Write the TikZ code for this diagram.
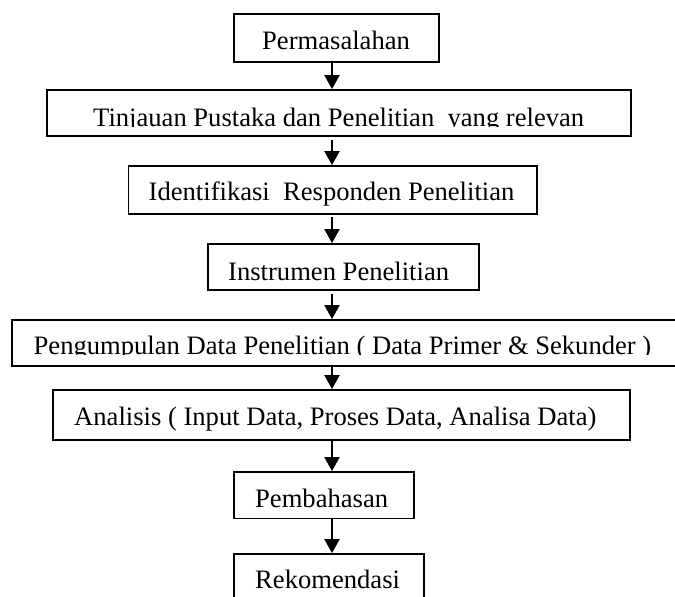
\documentclass[tikz,border=0pt]{standalone}
\usepackage{fontspec}
\setmainfont{Liberation Serif}
\usetikzlibrary{arrows.meta}
\begin{document}
\begin{tikzpicture}[x=1pt,y=-1pt,
  box/.style={draw=black,line width=1.8pt,inner sep=0pt,fill=white},
  lbl/.style={inner sep=0pt,anchor=base west,font=\fontsize{26.6}{30}\selectfont},
  arr/.style={line width=2pt,-{Triangle[width=15pt,length=14pt]}}]
\useasboundingbox (0,0) rectangle (675,597);
\clip (0,0) rectangle (675,597);
% boxes
\node[box,minimum width=205pt,minimum height=48pt] (b1) at (336.5,38) {};
\node[box,minimum width=584pt,minimum height=46pt] (b2) at (339,113) {};
\node[box,minimum width=408.5pt,minimum height=48pt] (b3) at (332.75,190) {};
\node[box,minimum width=271pt,minimum height=46pt] (b4) at (343.5,267) {};
\node[box,minimum width=690pt,minimum height=46pt] (b5) at (357,343) {};
\node[box,minimum width=577pt,minimum height=50pt] (b6) at (341.5,415) {};
\node[box,minimum width=180pt,minimum height=46.5pt] (b7) at (324,495.25) {};
\node[box,minimum width=190pt,minimum height=66pt] (b8) at (329,587) {};
% texts
\node[lbl] (t1) at (262,49) {Permasalahan};
\begin{scope}
\clip (50,92) rectangle (629,126);
\node[lbl] (t2) at (93,126) {Tinjauan Pustaka dan Penelitian\ \ yang relevan};
\end{scope}
\node[lbl] (t3) at (148.5,200) {Identifikasi\ \ Responden Penelitian};
\node[lbl] (t4) at (228,280) {Instrumen Penelitian};
\begin{scope}
\clip (14,322) rectangle (675,354.5);
\node[lbl] (t5) at (33.5,354) {Pengumpulan Data Penelitian ( Data Primer \& Sekunder )};
\end{scope}
\node[lbl] (t6) at (74,425) {Analisis ( Input Data, Proses Data, Analisa Data)};
\node[lbl] (t7) at (255,507) {Pembahasan};
\node[lbl] (t8) at (255,588) {Rekomendasi};
% arrow column
\coordinate (ax) at (332,0);
\draw[arr] (b1.south -| ax) -- (b2.north -| ax);
\draw[arr] ([yshift=-3pt]b2.south -| ax) -- (b3.north -| ax);
\draw[arr] ([yshift=-2pt]b3.south -| ax) -- (b4.north -| ax);
\draw[arr] ([yshift=-3pt]b4.south -| ax) -- (b5.north -| ax);
\draw[arr] (b5.south -| ax) -- (b6.north -| ax);
\draw[arr] (b6.south -| ax) -- (b7.north -| ax);
\draw[arr] (b7.south -| ax) -- (b8.north -| ax);
\end{tikzpicture}
\end{document}
